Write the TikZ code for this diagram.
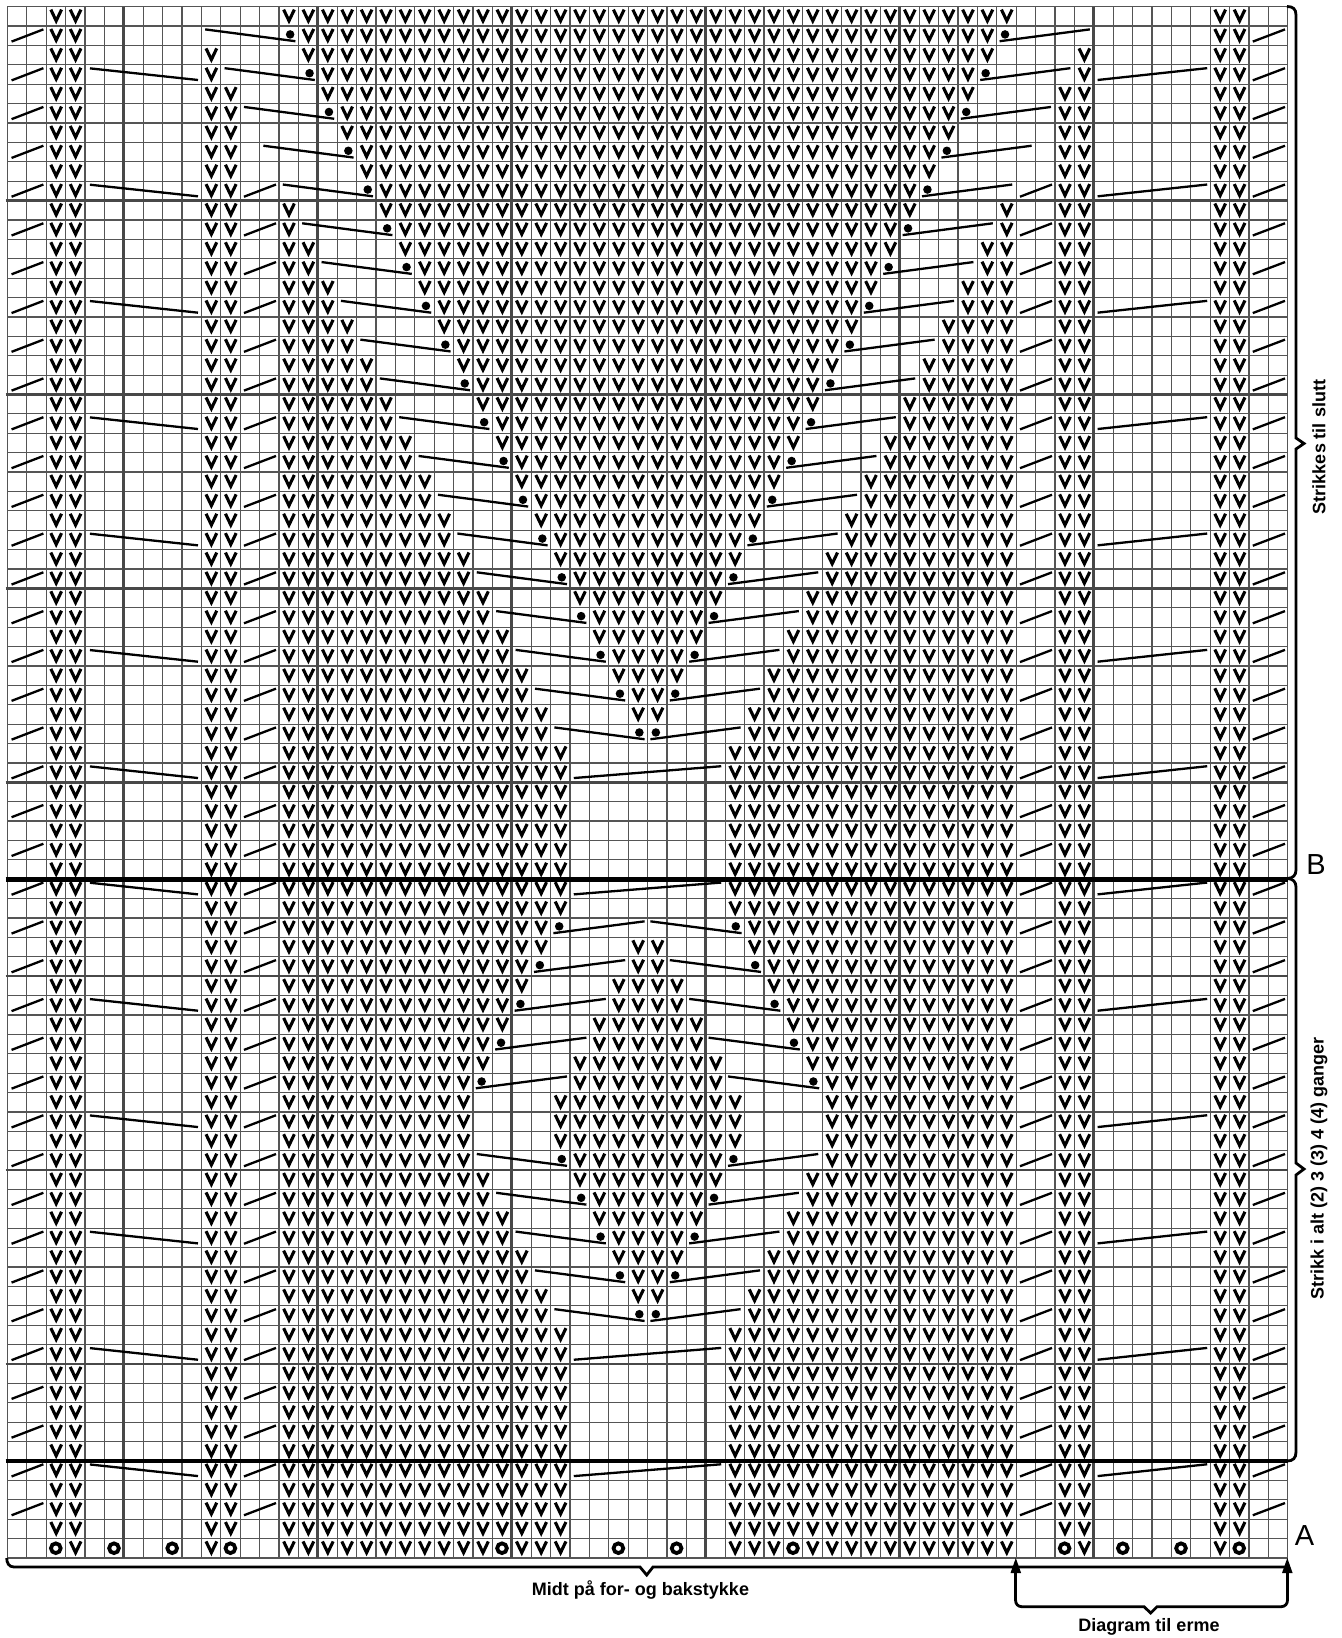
\documentclass[tikz,border=0pt]{standalone}
\usepackage{fontspec}
\setmainfont{Liberation Sans}
\definecolor{gridc}{HTML}{555555}
\definecolor{boldc}{HTML}{484848}
\tikzset{
  gridthin/.style={draw=gridc,line width=0.6pt},
  gridboldv/.style={draw=boldc,line width=1.4pt},
  gridboldh/.style={draw=boldc,line width=1.2pt},
  gridthick/.style={draw=black,line width=2.4pt},
  vmk/.style={draw=black,line width=1.55pt,miter limit=10},
  strand/.style={draw=black,line width=1.15pt},
  ringmk/.style={draw=black,line width=1.9pt},
  bracketline/.style={draw=black,line width=1.4pt},
  labeltext/.style={font=\fontsize{9}{11}\selectfont\bfseries,inner sep=0pt},
  bigletter/.style={font=\fontsize{14.5}{16}\selectfont,inner sep=0pt}
}
\newcommand\vmark[2]{\draw[vmk] (#1+.245,#2+.15) -- (#1+.52,#2+.73) -- (#1+.795,#2+.15);}
\newcommand\ringmark[2]{\draw[ringmk] (#1+.5,#2+.5) circle[radius=.25];}
\newcommand\dotmark[2]{\fill[black] (#1,#2+.43) circle[radius=.22];}
\newcommand\outerpair[3]{%
  \foreach \c in {#2,...,#3}{\vmark{\c}{#1}}}
\begin{document}
\begin{tikzpicture}[x=.5pt,y=-.5pt]
\useasboundingbox (0,0) rectangle (1341,1638);
\fill[white] (0,0) rectangle (1341,1638);
\begin{scope}[shift={(7.3,6.7)},x=9.7pt,y=-9.695pt]
  % grid
  \foreach \i in {0,...,66}{\draw[gridthin] (\i,0) -- (\i,80);}
  \foreach \j in {0,...,80}{\draw[gridthin] (0,\j) -- (66,\j);}
  \foreach \i in {6,16,...,56}{\draw[gridboldv] (\i,0) -- (\i,80);}
  \foreach \j in {10,20,...,70}{\draw[gridboldh] (-.08,\j) -- (66,\j);}
  % fixed side columns
  \foreach \r in {0,...,78}{\vmark{2}{\r}\vmark{3}{\r}\vmark{62}{\r}\vmark{63}{\r}}
  \foreach \r in {2,...,79}{\vmark{10}{\r}\vmark{55}{\r}}
  \foreach \r in {4,...,78}{\vmark{11}{\r}\vmark{54}{\r}}
  % main body: row / outer end / inner start
  \foreach \r/\L/\a in {0/9/14,1/9/15,2/10/15,3/10/16,4/11/16,5/11/17,6/12/17,7/12/18,8/13/18,9/13/19,
    10/14/19,11/14/20,12/15/20,13/15/21,14/16/21,15/16/22,16/17/22,17/17/23,18/18/23,19/18/24,
    20/19/24,21/19/25,22/20/25,23/20/26,24/21/26,25/21/27,26/22/27,27/22/28,28/23/28,29/23/29,
    30/24/29,31/24/30,32/25/30,33/25/31,34/26/31,35/26/32,36/27/32,37/27/99,38/28/99,39/28/99,
    40/28/99,41/28/99,42/28/99,43/28/99,44/28/99,45/28/99,46/28/99,47/27/99,48/27/32,49/26/32,
    50/26/31,51/25/31,52/25/30,53/24/30,54/24/29,55/23/29,56/23/28,57/23/28,58/23/28,59/23/29,
    60/24/29,61/24/30,62/25/30,63/25/31,64/26/31,65/26/32,66/27/32,67/27/99,68/28/99,69/28/99,
    70/28/99,71/28/99,72/28/99,73/28/99,74/28/99,75/28/99,76/28/99,77/28/99,78/28/99}{%
    \pgfmathtruncatemacro\RR{65-\L}%
    \pgfmathtruncatemacro\BB{65-\a}%
    \ifnum\L>13
      \outerpair{\r}{14}{\L}%
      \outerpair{\r}{\RR}{51}%
    \fi
    \ifnum\a<33
      \outerpair{\r}{\a}{\BB}%
    \fi
  }
  % bottom row
  \outerpair{79}{14}{24}\outerpair{79}{26}{28}\outerpair{79}{37}{39}\outerpair{79}{41}{51}
  \vmark{3}{79}\vmark{62}{79}
  \foreach \c in {2,5,8,11,25,31,34,40,54,57,60,63}{\ringmark{\c}{79}}
  % slashes at the edges
  \foreach \r in {1,3,...,77}{
    \draw[strand] (.22,\r+.8) -- (1.86,\r+.17);
    \draw[strand] (64.2,\r+.8) -- (65.86,\r+.17);
  }
  \foreach \r in {9,11,...,77}{
    \draw[strand] (12.2,\r+.8) -- (13.85,\r+.17);
    \draw[strand] (52.2,\r+.8) -- (53.85,\r+.17);
  }
  % long strands
  \foreach \r in {3,9,...,75}{
    \draw[strand] (4.26,\r+.18) -- (9.83,\r+.78);
    \draw[strand] (56.2,\r+.78) -- (61.85,\r+.17);
  }
  \foreach \r in {39,45,69,75}{\draw[strand] (29.2,\r+.78) -- (36.8,\r+.17);}
  % decreases, top part and rows 59-67
  \foreach \r/\d in {1/14,3/15,5/16,7/17,9/18,11/19,13/20,15/21,17/22,19/23,21/24,23/25,25/26,27/27,29/28,31/29,33/30,35/31,37/32,
                     59/28,61/29,63/30,65/31,67/32}{
    \pgfmathtruncatemacro\E{65-\d}
    \draw[strand] (\d-3.8,\r+.17) -- (\d+.85,\r+.78);
    \draw[strand] (\E+.15,\r+.78) -- (\E+4.8,\r+.17);
    \dotmark{\d+.58}{\r}
    \dotmark{\E+.43}{\r}
  }
  % increases, rows 47-55
  \foreach \r/\d in {47/28,49/27,51/26,53/25,55/24}{
    \pgfmathtruncatemacro\E{65-\d}
    \draw[strand] (\d+.15,\r+.78) -- (\d+4.85,\r+.17);
    \draw[strand] (\E-3.85,\r+.17) -- (\E+.85,\r+.78);
    \dotmark{\d+.45}{\r}
    \dotmark{\E+.55}{\r}
  }
  % thick rows
  \foreach \j in {45,75}{\draw[gridthick] (-.08,\j) -- (66,\j);}
\end{scope}
% right braces
\draw[bracketline] (1287,6.5) .. controls (1293,6.5) and (1296,9) .. (1296,15) -- (1296,438) -- (1304,443.5) -- (1296,449) -- (1296,870) .. controls (1296,875) and (1293,878.5) .. (1287,878.5);
\draw[bracketline] (1287,878.5) .. controls (1293,878.5) and (1296,882) .. (1296,887) -- (1296,1163) -- (1304,1169) -- (1296,1175) -- (1296,1452) .. controls (1296,1458) and (1293,1461) .. (1287,1461);
% bottom bracket
\draw[bracketline] (6.7,1558) .. controls (6.7,1563) and (9,1567) .. (14,1567) -- (640,1567) -- (646.7,1575) -- (653,1567) -- (1287.5,1567);
% arrows and sleeve bracket
\draw[bracketline] (1015.5,1570) -- (1015.5,1600) .. controls (1015.5,1604) and (1018,1606.7) .. (1022,1606.7) -- (1144,1606.7) -- (1150.7,1613) -- (1157,1606.7) -- (1281,1606.7) .. controls (1285,1606.7) and (1287.5,1604) .. (1287.5,1600) -- (1287.5,1570);
\fill[black] (1015.8,1558) -- (1010.5,1573) -- (1021.1,1573) -- cycle;
\fill[black] (1287.3,1558) -- (1282,1573) -- (1292.6,1573) -- cycle;
% labels
\node[labeltext,rotate=90] (strikkes) at (1319,447) {Strikkes til slutt};
\node[labeltext,rotate=90] (strikk) at (1319,1168) {Strikk i alt (2) 3 (3) 4 (4) ganger};
\node[labeltext] (midt) at (640.5,1590) {Midt på for- og bakstykke};
\node[labeltext] (diagram) at (1149,1627) {Diagram til erme};
\node[bigletter] (letterA) at (1304.5,1536) {A};
\node[bigletter] (letterB) at (1316,865) {B};
\end{tikzpicture}
\end{document}
